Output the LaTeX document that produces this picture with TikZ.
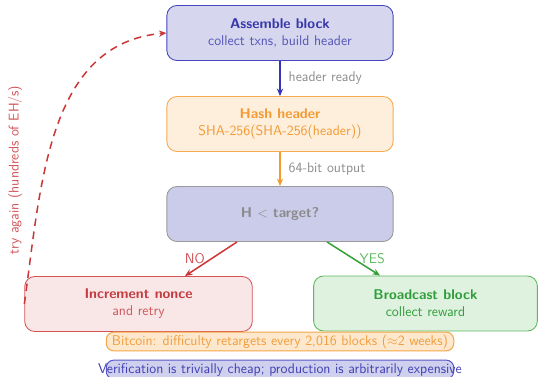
\documentclass[tikz,border=0pt]{standalone}
\usetikzlibrary{arrows.meta}
\renewcommand{\familydefault}{\sfdefault}
\definecolor{asmFill}{HTML}{D6D6EF}
\definecolor{asmLine}{HTML}{4646BE}
\definecolor{asmText}{HTML}{3737AA}
\definecolor{hashFill}{HTML}{FEEEDC}
\definecolor{hashLine}{HTML}{F7AA52}
\definecolor{hashText}{HTML}{F39A33}
\definecolor{testFill}{HTML}{CBCBEA}
\definecolor{testLine}{HTML}{9A9A9A}
\definecolor{testText}{HTML}{8A8A8A}
\definecolor{incFill}{HTML}{F9E6E7}
\definecolor{incLine}{HTML}{D25458}
\definecolor{incText}{HTML}{C43B3F}
\definecolor{bcFill}{HTML}{DFF1DF}
\definecolor{bcLine}{HTML}{5DB960}
\definecolor{bcText}{HTML}{2F9E3A}
\definecolor{noteOFill}{HTML}{FDE8CD}
\definecolor{noteOLine}{HTML}{F6A647}
\definecolor{noteOText}{HTML}{F29D3C}
\definecolor{noteBFill}{HTML}{CFCFEE}
\definecolor{noteBLine}{HTML}{5858C8}
\definecolor{noteBText}{HTML}{4040B4}
\definecolor{arrBlue}{HTML}{3434B8}
\definecolor{arrOrange}{HTML}{F59A2A}
\definecolor{arrRed}{HTML}{CC3535}
\definecolor{arrGreen}{HTML}{35A035}
\definecolor{lblGray}{HTML}{8C8C8C}
\newcommand{\diagfont}{\fontsize{11.3pt}{13.6pt}\selectfont}
\tikzset{
  stagebox/.style={draw, rounded corners=8pt, line width=0.7pt,
    minimum width=181pt, minimum height=44pt, align=center,
    font=\diagfont},
  notebox/.style={draw, rounded corners=6pt, line width=0.8pt,
    minimum width=278pt, minimum height=15pt, inner xsep=0pt, inner ysep=1pt,
    font=\diagfont},
  flow/.style={line width=1.2pt, -{Stealth[length=6pt,width=5pt]}},
  edgelbl/.style={font=\diagfont, text=lblGray},
}
\begin{document}
\begin{tikzpicture}[x=0.8pt, y=-0.8pt]
\useasboundingbox (0,0) rectangle (538,377);

% pipeline stages
\node[stagebox, fill=asmFill, draw=asmLine, text=asmText] (asm) at (280,33)
  {\textbf{Assemble block}\\\color{asmText!85}collect txns, build header};
\node[stagebox, fill=hashFill, draw=hashLine, text=hashText] (hash) at (280,124)
  {\textbf{Hash header}\\SHA-256(SHA-256(header))};
\node[stagebox, fill=testFill, draw=testLine, text=testText] (test) at (280,214)
  {\textbf{H $<$ target?}};
\node[stagebox, minimum width=182pt, fill=incFill, draw=incLine, text=incText] (inc) at (138.5,304)
  {\textbf{Increment nonce}\\\color{incText!85}and retry};
\node[stagebox, minimum width=179pt, fill=bcFill, draw=bcLine, text=bcText] (bc) at (425.5,303.5)
  {\textbf{Broadcast block}\\collect reward};

% notes along the bottom
\node[notebox, fill=noteOFill, draw=noteOLine, text=noteOText] (diff) at (280,341.5)
  {Bitcoin: difficulty retargets every 2,016 blocks ($\approx$2 weeks)};
\node[notebox, fill=noteBFill, draw=noteBLine, text=noteBText] (verif) at (280,369.5)
  {\makebox[278pt]{Verification is trivially cheap; production is arbitrarily expensive}};

% main flow
\draw[flow, arrBlue] (asm.south) -- node[edgelbl, right=3pt] {header ready} (hash.north);
\draw[flow, arrOrange] (hash.south) -- node[edgelbl, right=3pt] {64-bit output} (test.north);
\draw[flow, arrRed] ([xshift=-34.4pt]test.south) -- node[left=1pt, text=incLine, font=\diagfont] {NO}
  ([xshift=37.2pt]inc.north);
\draw[flow, arrGreen] ([xshift=37.6pt]test.south) -- node[right=1pt, text=bcLine, font=\diagfont] {YES}
  ([xshift=-36.4pt]bc.north);

% retry loop
\draw[arrRed, line width=1.2pt, dash pattern=on 6pt off 4.5pt, -{Stealth[length=6pt,width=5pt]}]
  (inc.west) to[out=82, in=185] (asm.west);
\node[rotate=90, text=incLine, font=\diagfont] (loop) at (15,170) {try again (hundreds of EH/s)};
\end{tikzpicture}
\end{document}
